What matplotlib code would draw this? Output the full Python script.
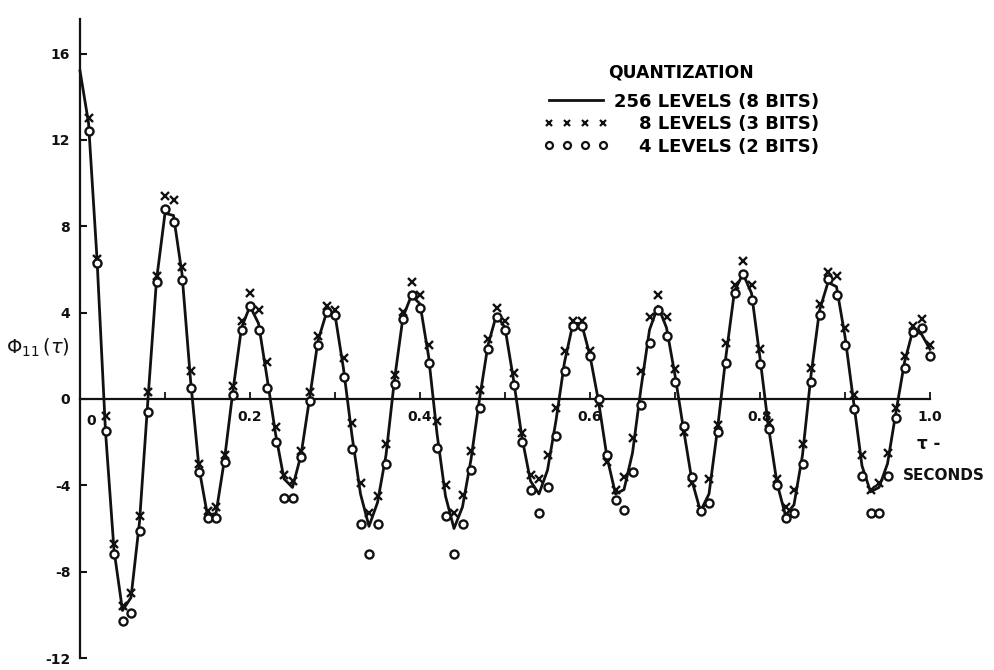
import numpy as np
import matplotlib.pyplot as plt
from matplotlib.lines import Line2D
from matplotlib.ticker import MultipleLocator

plt.rcParams['font.family'] = 'DejaVu Sans'
plt.rcParams['axes.unicode_minus'] = False

# lag in seconds, one sample every 0.01 s
tau = np.round(np.arange(0, 101) * 0.01, 2)

# 256 levels (8 bits) - solid curve
phi_256 = [15.2, 12.8, 6.5, -1.5, -7.0, -9.8, -9.2, -5.7, 0.0, 5.5,
           8.6, 8.5, 5.8, 0.9, -3.2, -5.4, -5.3, -2.8, 0.4, 3.3,
           4.3, 3.5, 1.0, -1.6, -3.7, -4.1, -2.6, 0.0, 2.7, 4.0,
           3.9, 1.4, -1.7, -4.4, -5.9, -4.8, -2.6, 0.9, 3.8, 4.8,
           4.4, 2.0, -1.6, -4.5, -6.0, -5.0, -2.8, 0.0, 2.5, 3.9,
           3.3, 0.9, -1.8, -3.8, -4.4, -3.3, -1.0, 1.7, 3.5, 3.5,
           2.0, -0.1, -2.7, -4.4, -4.2, -2.5, 0.5, 3.2, 4.3, 3.3,
           1.1, -1.4, -3.8, -5.2, -4.4, -1.4, 2.0, 5.0, 5.8, 4.9,
           1.9, -1.3, -3.9, -5.4, -4.9, -2.6, 1.1, 4.1, 5.4, 5.2,
           2.9, -0.1, -3.1, -4.3, -4.1, -3.0, -0.6, 1.7, 3.2, 3.0,
           2.3]

# 8 levels (3 bits) - crosses, from lag 0.01 on
phi_8 = [13.0, 6.5, -0.8, -6.7, -9.6, -9.0, -5.4, 0.3, 5.7,
         9.4, 9.2, 6.1, 1.3, -3.0, -5.2, -5.0, -2.6, 0.6, 3.6,
         4.9, 4.1, 1.7, -1.3, -3.5, -3.8, -2.4, 0.3, 2.9, 4.3,
         4.1, 1.9, -1.1, -3.9, -5.3, -4.5, -2.1, 1.1, 4.05, 5.4,
         4.8, 2.5, -1.0, -4.0, -5.3, -4.45, -2.4, 0.4, 2.8, 4.2,
         3.6, 1.2, -1.6, -3.5, -3.7, -2.6, -0.4, 2.2, 3.6, 3.6,
         2.2, -0.2, -2.9, -4.2, -3.6, -1.8, 1.3, 3.8, 4.8, 3.8,
         1.4, -1.55, -3.9, -5.1, -3.7, -1.2, 2.6, 5.3, 6.4, 5.3,
         2.3, -1.1, -3.7, -5.0, -4.2, -2.1, 1.45, 4.4, 5.9, 5.7,
         3.3, 0.2, -2.6, -4.2, -3.9, -2.5, -0.4, 2.0, 3.4, 3.7,
         2.5]

# 4 levels (2 bits) - circles, from lag 0.01 on
phi_4 = [12.4, 6.3, -1.5, -7.2, -10.3, -9.9, -6.1, -0.6, 5.4,
         8.8, 8.2, 5.5, 0.5, -3.4, -5.5, -5.5, -2.9, 0.2, 3.2,
         4.3, 3.2, 0.5, -2.0, -4.6, -4.6, -2.7, -0.1, 2.5, 4.05,
         3.9, 1.0, -2.3, -5.8, -7.2, -5.8, -3.0, 0.7, 3.7, 4.8,
         4.2, 1.65, -2.25, -5.4, -7.2, -5.8, -3.3, -0.4, 2.3, 3.8,
         3.2, 0.65, -2.0, -4.2, -5.3, -4.1, -1.7, 1.3, 3.4, 3.4,
         2.0, 0.0, -2.6, -4.7, -5.15, -3.4, -0.3, 2.6, 4.1, 2.9,
         0.8, -1.25, -3.6, -5.2, -4.8, -1.55, 1.65, 4.9, 5.8, 4.6,
         1.6, -1.4, -4.0, -5.5, -5.3, -3.0, 0.8, 3.9, 5.55, 4.8,
         2.5, -0.45, -3.55, -5.3, -5.3, -3.55, -0.9, 1.45, 3.1, 3.3,
         2.0]

y_ticks = [-12, -8, -4, 0, 4, 8, 12, 16]
x_ticks = [0.2, 0.4, 0.6, 0.8, 1.0]
x_tick_labels = ['0.2', '0.4', '0.6', '0.8', '1.0']

fig = plt.figure(figsize=(9.94, 6.70), dpi=100)
ax = fig.add_axes([80 / 994, 12 / 670, 850 / 994, 639 / 670])

ink = '#111111'
ax.plot(tau, phi_256, color=ink, lw=2.0, zorder=3, clip_on=False)
ax.plot(tau[1:], phi_8, ls='none', marker='x', ms=5.5, mew=1.7,
        color=ink, zorder=4, clip_on=False)
ax.plot(tau[1:], phi_4, ls='none', marker='o', ms=5.8, mew=1.7,
        mfc='white', mec=ink, zorder=5, clip_on=False)

ax.set_xlim(0, 1.0)
ax.set_ylim(-12, 17.6)

for s in ['top', 'right']:
    ax.spines[s].set_visible(False)
ax.spines['bottom'].set_position(('data', 0))
ax.spines['bottom'].set_linewidth(1.6)
ax.spines['left'].set_linewidth(1.6)
ax.spines['bottom'].set_color(ink)
ax.spines['left'].set_color(ink)

ax.set_yticks(y_ticks)
ax.set_xticks(x_ticks)
ax.set_xticklabels(x_tick_labels)
ax.xaxis.set_minor_locator(MultipleLocator(0.1))
ax.tick_params(axis='y', direction='in', length=5, width=1.5, pad=7,
               labelsize=10, colors=ink)
ax.tick_params(axis='x', which='both', direction='in', length=5, width=1.3,
               pad=8, labelsize=10, colors=ink)
for lab in ax.get_xticklabels() + ax.get_yticklabels():
    lab.set_fontweight('bold')

# origin label sits just right of the axis
ax.annotate('0', xy=(0, 0), xytext=(8, -11), textcoords='offset points',
            ha='center', va='top', fontsize=10, fontweight='bold', color=ink)

fig.text(38 / 994, 1 - 348 / 670, r'$\Phi_{11}\,(\tau)$', fontsize=14,
         ha='center', va='center', color=ink)
fig.text(917 / 994, 1 - 444 / 670, 'τ -', fontsize=12, fontweight='bold',
         ha='left', va='center', color=ink)
fig.text(944 / 994, 1 - 476 / 670, 'SECONDS', fontsize=11, fontweight='bold',
         ha='center', va='center', color=ink)

handles = [
    Line2D([], [], color=ink, lw=2.0),
    Line2D([], [], ls='none', marker='x', ms=5, mew=1.6, color=ink),
    Line2D([], [], ls='none', marker='o', ms=5, mew=1.6, mfc='white', mec=ink),
]
labels = ['256 LEVELS (8 BITS)', '    8 LEVELS (3 BITS)', '    4 LEVELS (2 BITS)']
leg = ax.legend(handles, labels, title='QUANTIZATION', numpoints=4,
                loc='upper left', bbox_to_anchor=(531 / 994, 1 - 51 / 670),
                bbox_transform=fig.transFigure, frameon=False,
                handlelength=3.6, handletextpad=0.3, labelspacing=0.25,
                borderpad=0.2, prop={'size': 13, 'weight': 'bold'},
                title_fontproperties={'size': 12.3, 'weight': 'bold'})
leg._legend_box.sep = 8

fig.savefig('out.png', dpi=100, facecolor='white')
